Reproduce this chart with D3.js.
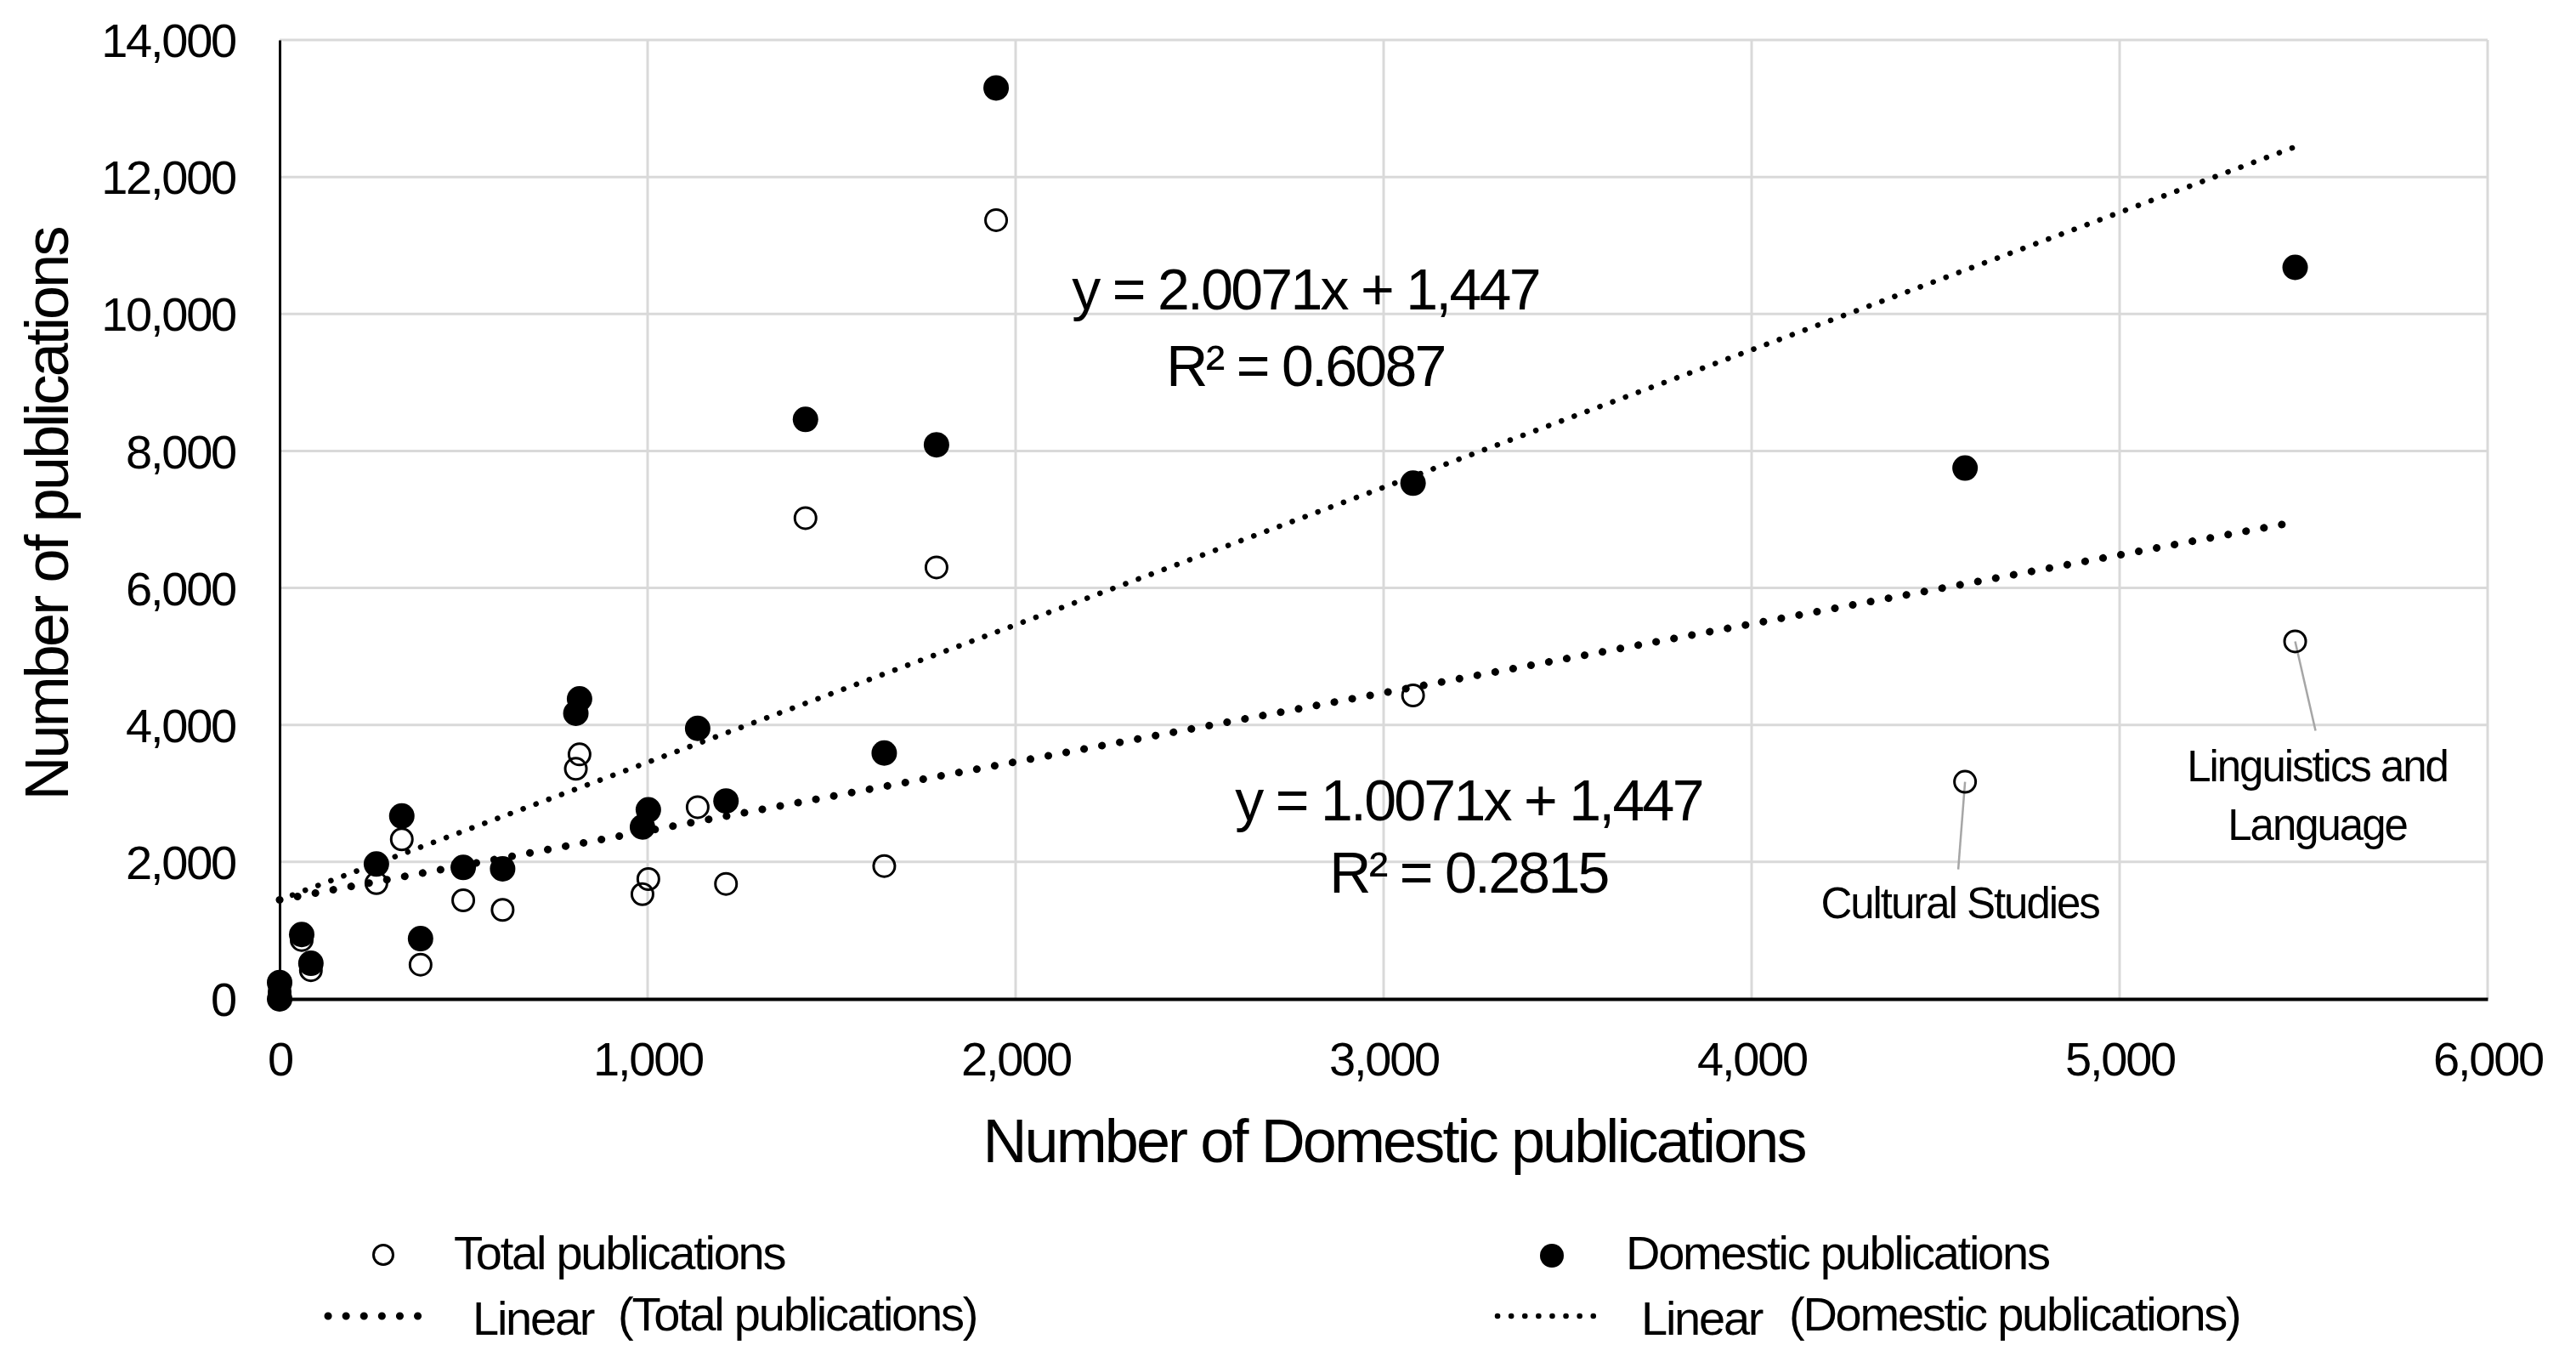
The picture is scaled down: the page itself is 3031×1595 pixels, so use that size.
<!DOCTYPE html>
<html>
<head>
<meta charset="utf-8">
<script src="https://cdn.jsdelivr.net/npm/d3@7"></script>
<style>
body { margin: 0; background: #fff; }
text { font-family: "Liberation Sans", Arial, sans-serif; fill: #000; letter-spacing: -0.04em; }
</style>
</head>
<body>
<svg id="chart" width="3031" height="1595"></svg>
<script>
// data
const domesticCount = [0, 0, 60, 85, 263, 332, 383, 499, 606, 805, 815, 986, 1002, 1136, 1213, 1429, 1643, 1785, 1947, 3080, 4580, 5477];
const totalPubs     = [100, 0, 860, 420, 1690, 2330, 500, 1440, 1300, 3360, 3570, 1530, 1750, 2800, 1680, 7020, 1940, 6300, 11370, 4430, 3170, 5220];
const domesticPubs  = [240, 0, 940, 520, 1970, 2670, 880, 1920, 1900, 4170, 4380, 2510, 2760, 3950, 2890, 8460, 3590, 8090, 13300, 7530, 7750, 10680];

const xTicks = [0, 1000, 2000, 3000, 4000, 5000, 6000];
const yTicks = [0, 2000, 4000, 6000, 8000, 10000, 12000, 14000];

// trendline coefficients [slope, intercept] and their labels
const trendTotal = [1.0071, 1447];
const trendDomestic = [2.0071, 1447];
const eqTotal = ["y = 1.0071x + 1,447", "R² = 0.2815"];
const eqDomestic = ["y = 2.0071x + 1,447", "R² = 0.6087"];

const annotations = [
  { index: 20, lines: ["Cultural Studies"] },
  { index: 21, lines: ["Linguistics and", "Language"] }
];

const xTitle = "Number of Domestic publications";
const yTitle = "Number of publications";

const svg = d3.select("#chart");
const mLeft = 329, mRight = 2927, mTop = 47, mBottom = 1175;

const x = d3.scaleLinear().domain([0, 6000]).range([mLeft, mRight]);
const y = d3.scaleLinear().domain([0, 14000]).range([mBottom, mTop]);
const fmt = d3.format(",");

// grid
svg.append("g").selectAll("line").data(yTicks.slice(1)).join("line")
  .attr("x1", mLeft).attr("x2", mRight)
  .attr("y1", d => y(d)).attr("y2", d => y(d))
  .attr("stroke", "#d9d9d9").attr("stroke-width", 3);
svg.append("g").selectAll("line").data(xTicks.slice(1)).join("line")
  .attr("x1", d => x(d)).attr("x2", d => x(d))
  .attr("y1", mTop).attr("y2", mBottom)
  .attr("stroke", "#d9d9d9").attr("stroke-width", 3);

// axes
const yAxis = svg.append("g")
  .attr("transform", `translate(${mLeft},0)`)
  .call(d3.axisLeft(y).tickValues(yTicks).tickFormat(fmt).tickSize(0).tickPadding(52));
yAxis.select(".domain").attr("stroke", "#000").attr("stroke-width", 3);
yAxis.selectAll("text").attr("font-size", 56).attr("font-family", null).attr("dy", "0.35em");

const xAxis = svg.append("g")
  .attr("transform", `translate(0,${mBottom})`)
  .call(d3.axisBottom(x).tickValues(xTicks).tickFormat(fmt).tickSize(0));
xAxis.select(".domain").attr("stroke", "#000").attr("stroke-width", 4);
xAxis.selectAll("text").attr("font-size", 56).attr("font-family", null).attr("y", 90).attr("dy", 0);

svg.append("text").attr("x", 1640).attr("y", 1367)
  .attr("text-anchor", "middle").attr("font-size", 72).text(xTitle);
svg.append("text").attr("transform", "translate(80,605) rotate(-90)")
  .attr("text-anchor", "middle").attr("font-size", 72).text(yTitle);

// annotation leader lines (under markers)
const leader = [[-8, 103], [24, 105]];
annotations.forEach((a, i) => {
  const px = x(domesticCount[a.index]), py = y(totalPubs[a.index]);
  svg.append("line")
    .attr("x1", px).attr("y1", py)
    .attr("x2", px + leader[i][0]).attr("y2", py + leader[i][1])
    .attr("stroke", "#a6a6a6").attr("stroke-width", 2.5);
  const t = svg.append("text").attr("text-anchor", "middle").attr("font-size", 51);
  a.lines.forEach((l, j) => {
    t.append("tspan").attr("x", px + (i === 0 ? -6 : 26))
      .attr("y", py + (i === 0 ? 160 : 165) + j * 69).text(l);
  });
});

// points
svg.append("g").selectAll("circle").data(domesticCount).join("circle")
  .attr("cx", d => x(d)).attr("cy", (d, i) => y(totalPubs[i]))
  .attr("r", 12.5).attr("fill", "none").attr("stroke", "#000").attr("stroke-width", 3);
svg.append("g").selectAll("circle").data(domesticCount).join("circle")
  .attr("cx", d => x(d)).attr("cy", (d, i) => y(domesticPubs[i]))
  .attr("r", 15).attr("fill", "#000");

// trendlines
const xMax = d3.max(domesticCount);
function trend(c, w, gap) {
  svg.append("line")
    .attr("x1", x(0)).attr("y1", y(c[1]))
    .attr("x2", x(xMax)).attr("y2", y(c[0] * xMax + c[1]))
    .attr("stroke", "#000").attr("stroke-width", w)
    .attr("stroke-linecap", "round").attr("stroke-dasharray", `0.1 ${gap}`);
}
trend(trendTotal, 9, 21.3);
trend(trendDomestic, 6.5, 16);

// equations
function eq(lines, cx, y0, dy) {
  lines.forEach((l, i) => {
    svg.append("text").attr("x", cx).attr("y", y0 + i * dy)
      .attr("text-anchor", "middle").attr("font-size", 68).text(l);
  });
}
eq(eqDomestic, 1536, 364, 90);
eq(eqTotal, 1728, 965, 85);

// legend
const lg = svg.append("g").style("letter-spacing", "-0.02em");
lg.append("circle").attr("cx", 451).attr("cy", 1476).attr("r", 11.5)
  .attr("fill", "none").attr("stroke", "#000").attr("stroke-width", 3);
lg.append("text").attr("x", 534).attr("y", 1493).attr("font-size", 56).text("Total publications");
lg.append("circle").attr("cx", 1826).attr("cy", 1477).attr("r", 14).attr("fill", "#000");
lg.append("text").attr("x", 1913).attr("y", 1493).attr("font-size", 56).text("Domestic publications");

lg.append("line").attr("x1", 386).attr("x2", 512).attr("y1", 1548).attr("y2", 1548)
  .attr("stroke", "#000").attr("stroke-width", 9).attr("stroke-linecap", "round").attr("stroke-dasharray", "0.1 21");
lg.append("text").attr("x", 556).attr("y", 1570).attr("font-size", 56).text("Linear");
lg.append("text").attr("x", 727).attr("y", 1565).attr("font-size", 56).text("(Total publications)");

lg.append("line").attr("x1", 1762).attr("x2", 1890).attr("y1", 1548).attr("y2", 1548)
  .attr("stroke", "#000").attr("stroke-width", 6.5).attr("stroke-linecap", "round").attr("stroke-dasharray", "0.1 16");
lg.append("text").attr("x", 1931).attr("y", 1570).attr("font-size", 56).text("Linear");
lg.append("text").attr("x", 2105).attr("y", 1565).attr("font-size", 56).text("(Domestic publications)");
</script>
</body>
</html>
